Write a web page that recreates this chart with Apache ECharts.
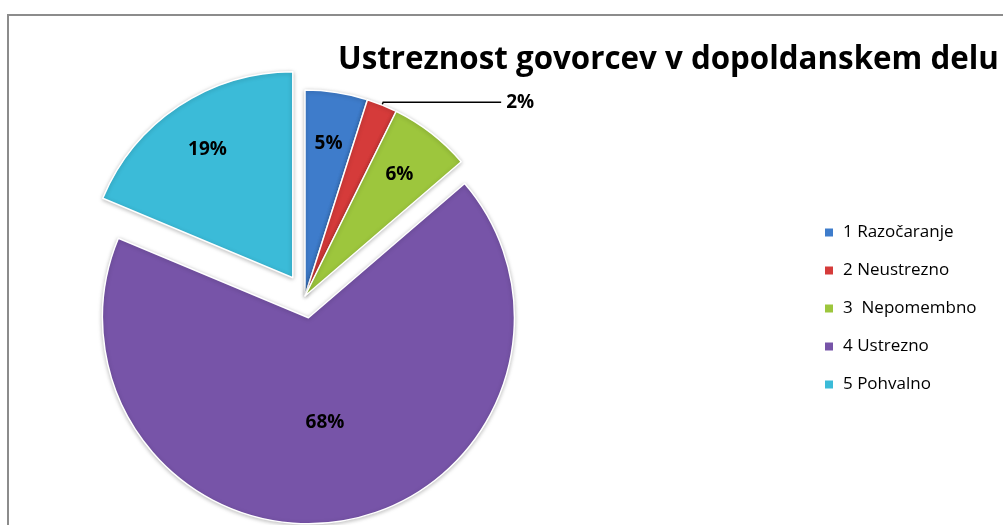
<!DOCTYPE html>
<html><head><meta charset="utf-8">
<script src="https://cdn.jsdelivr.net/npm/echarts@6/dist/echarts.min.js"></script>
<style>html,body{margin:0;padding:0;background:#fff}#c{width:1003px;height:525px}</style>
</head><body><div id="c"></div>
<script>
const categories = ['1 Razočaranje', '2 Neustrezno', '3  Nepomembno', '4 Ustrezno', '5 Pohvalno'];
const values = [4.9, 2.4, 6.4, 67.6, 18.7];
const explodedFlags = [false, false, false, true, true];
const colors = ['#3e7ccb', '#d53b3a', '#9dc63d', '#7754a8', '#3bbbd8'];
const titleText = 'Ustreznost govorcev v dopoldanskem delu';

const font = '"Open Sans", "Noto Sans", sans-serif';
const center = [305, 296];
const R = 206;
const pctLabel = p => Math.round(p.percent) + '%';

const mainData = categories.map((n, i) => ({
  name: n, value: values[i], selected: explodedFlags[i],
  label: i === 1 ? {show: true, position: 'outside'} :
         i === 3 ? {show: true, position: 'inside'} : {show: false},
  labelLine: {show: i === 1}
}));
const labelData = categories.map((n, i) => ({
  name: n, value: values[i], selected: explodedFlags[i],
  label: {show: i === 0 || i === 2 || i === 4}
}));

const chart = echarts.init(document.getElementById('c'));
chart.setOption({
  animation: false,
  color: colors,
  graphic: [{type: 'rect', shape: {x: 8, y: 15, width: 1200, height: 700},
    style: {fill: 'none', stroke: '#8c8c8c', lineWidth: 2}, silent: true}],
  title: {text: titleText, left: 333, top: 40,
    textStyle: {fontFamily: font, fontWeight: 'bold', fontSize: 31.3, color: '#000'}},
  legend: {orient: 'vertical', left: 818, top: 219, itemWidth: 10, itemHeight: 10, itemGap: 21,
    icon: 'rect', data: categories, selectedMode: false,
    textStyle: {fontFamily: font, fontSize: 17, color: '#000', padding: [0, 0, 0, 4]}},
  series: [{
    type: 'pie', center: center, radius: [0, R], startAngle: 90, clockwise: true,
    selectedMode: 'multiple', selectedOffset: 22, data: mainData,
    itemStyle: {borderColor: '#ffffff', borderWidth: 1.5,
      shadowColor: 'rgba(0,0,0,0.25)', shadowBlur: 4, shadowOffsetY: 1},
    label: {formatter: pctLabel, fontFamily: font, fontWeight: 'bold', fontSize: 19, color: '#000'},
    labelLine: {length: 3, length2: 118, lineStyle: {color: '#000', width: 1.5}, smooth: false},
    emphasis: {disabled: true}
  }, {
    type: 'pie', center: center, radius: [0, 302], startAngle: 90, clockwise: true,
    selectedMode: 'multiple', selectedOffset: 22, data: labelData, silent: true,
    itemStyle: {color: 'rgba(0,0,0,0)'},
    label: {position: 'inside', formatter: pctLabel, fontFamily: font, fontWeight: 'bold', fontSize: 19, color: '#000'},
    labelLine: {show: false},
    emphasis: {disabled: true}
  }]
});
</script></body></html>
